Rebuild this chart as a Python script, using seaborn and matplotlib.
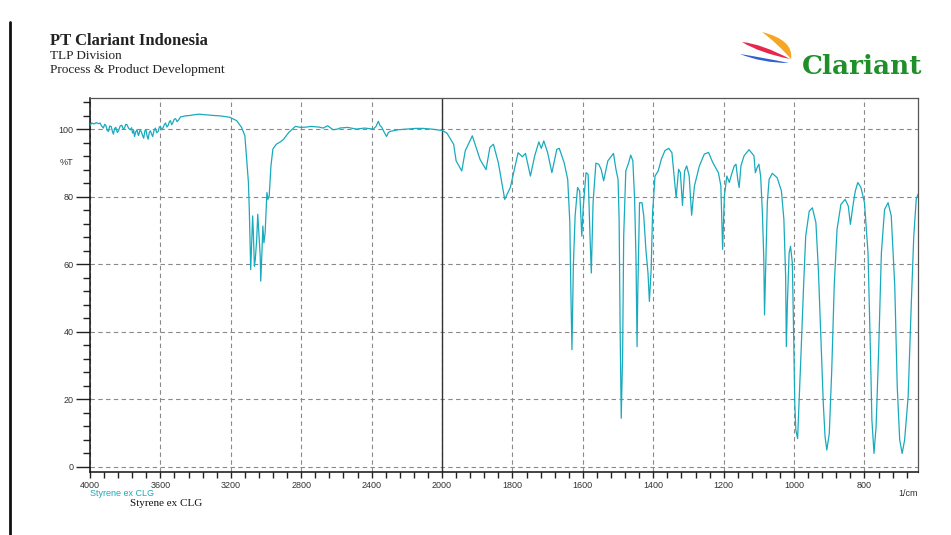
import numpy as np
import pandas as pd
import seaborn as sns
import matplotlib.pyplot as plt
from matplotlib.path import Path
from matplotlib.patches import PathPatch
from matplotlib.lines import Line2D
import matplotlib.transforms as mtransforms

# wavenumber (1/cm) and transmittance (%T)
wavenumber = [
    4000, 3990, 3977, 3965, 3950, 3943, 3935, 3924, 3917, 3910, 3902, 3895, 3888, 3880,
    3873, 3867, 3860, 3853, 3845, 3838, 3828, 3819, 3811, 3804, 3797, 3790, 3780, 3771,
    3764, 3758, 3752, 3747, 3740, 3733, 3728, 3724, 3716, 3709, 3702, 3695, 3688, 3682,
    3676, 3670, 3663, 3657, 3650, 3644, 3636, 3629, 3621, 3613, 3606, 3600, 3593, 3587,
    3579, 3571, 3563, 3556, 3549, 3543, 3536, 3530, 3522, 3514, 3505, 3495, 3486, 3476,
    3460, 3438, 3400, 3381, 3336, 3290, 3260, 3206, 3167, 3139, 3120, 3110, 3100, 3095,
    3091, 3087, 3081, 3076, 3072, 3066, 3061, 3053, 3047, 3041, 3033, 3030, 3024, 3018,
    3012, 3005, 2995, 2989, 2982, 2972, 2961, 2942, 2919, 2900, 2871, 2833, 2804, 2770,
    2746, 2700, 2675, 2650, 2619, 2593, 2581, 2536, 2487, 2440, 2391, 2375, 2362, 2352,
    2343, 2328, 2315, 2305, 2296, 2250, 2203, 2150, 2109, 2060, 2032, 2000,
    1986, 1967, 1960, 1944, 1934, 1914, 1892, 1875, 1864, 1854, 1840, 1822, 1806, 1784,
    1772, 1763, 1749, 1737, 1725, 1718, 1711, 1700, 1688, 1674, 1667, 1653, 1643, 1637,
    1634, 1631, 1627, 1622, 1615, 1609, 1603, 1599, 1591, 1585, 1580, 1576, 1571, 1563,
    1555, 1548, 1541, 1529, 1513, 1506, 1500, 1497, 1494, 1491, 1487, 1484, 1478, 1470,
    1464, 1458, 1453, 1449, 1446, 1444, 1439, 1432, 1427, 1421, 1415, 1411, 1406, 1402,
    1395, 1386, 1377, 1367, 1356, 1347, 1340, 1335, 1328, 1323, 1317, 1311, 1305, 1298,
    1291, 1283, 1269, 1255, 1243, 1231, 1215, 1208, 1203, 1198, 1191, 1184, 1179, 1170,
    1165, 1160, 1156, 1151, 1142, 1128, 1114, 1110, 1105, 1100, 1095, 1090, 1086, 1084,
    1080, 1076, 1071, 1062, 1048, 1036, 1029, 1024, 1022, 1019, 1014, 1010, 1005, 1002,
    998, 995, 990, 986, 981, 973, 967, 957, 948, 938, 931, 924, 917, 912,
    907, 900, 893, 886, 878, 867, 855, 846, 840, 833, 826, 819, 810, 800,
    790, 783, 779, 773, 767, 760, 752, 743, 733, 724, 714, 707, 700, 693,
    686, 676, 667, 660, 653, 648,
]
transmittance = [
    101.0, 101.8, 101.5, 101.9, 101.6, 101.8, 101.0, 100.3, 101.4, 101.1, 99.6, 99.3, 100.9, 100.8,
    99.4, 98.5, 100.2, 100.5, 99.0, 99.5, 101.0, 101.1, 100.0, 100.3, 101.4, 101.3, 100.2, 99.8,
    100.4, 98.8, 99.6, 97.8, 99.2, 99.8, 98.6, 98.1, 99.7, 99.3, 98.2, 97.3, 99.5, 99.8,
    98.0, 97.0, 99.0, 99.5, 98.5, 97.8, 99.6, 100.3, 98.9, 99.3, 100.6, 100.8, 99.8, 100.1,
    101.2, 101.8, 100.6, 101.1, 102.2, 102.5, 101.3, 101.8, 102.9, 103.1, 102.2, 102.8, 103.6, 103.7,
    103.9, 104.0, 104.3, 104.4, 104.2, 104.0, 103.9, 103.5, 102.5, 100.5, 98.0, 91.1, 84.2, 76.2,
    67.3, 58.4, 67.3, 74.3, 69.3, 59.4, 61.4, 67.3, 74.8, 69.3, 62.4, 55.0, 62.4, 71.3,
    66.3, 69.3, 81.2, 79.2, 80.2, 89.1, 94.1, 95.5, 96.2, 97.0, 99.0, 100.8, 100.5, 100.6,
    100.8, 100.6, 100.3, 101.0, 99.8, 100.0, 100.3, 100.5, 100.0, 100.3, 100.0, 100.8, 102.3, 101.0,
    100.6, 99.0, 97.8, 99.0, 99.3, 99.8, 100.0, 100.2, 100.2, 100.0, 99.8, 99.6,
    98.8, 95.5, 90.6, 87.6, 93.6, 98.0, 91.0, 88.0, 94.6, 95.5, 90.0, 79.2, 82.7, 93.0,
    91.8, 92.8, 86.1, 92.0, 96.2, 94.3, 96.5, 93.0, 87.1, 94.0, 94.3, 90.0, 85.1, 72.3,
    51.5, 34.7, 59.4, 74.3, 82.7, 81.7, 68.3, 76.7, 87.1, 86.6, 69.3, 57.4, 78.2, 89.9,
    89.6, 88.1, 84.7, 90.6, 92.8, 88.1, 85.1, 73.3, 39.6, 14.4, 33.7, 68.3, 87.6, 90.0,
    92.3, 90.6, 79.2, 61.4, 35.6, 51.5, 78.2, 78.2, 74.3, 64.4, 57.4, 49.0, 58.4, 75.2,
    86.1, 87.6, 91.1, 93.6, 94.3, 93.0, 85.1, 79.7, 88.1, 87.1, 77.4, 87.6, 89.1, 86.1,
    74.5, 83.2, 89.1, 92.6, 93.1, 90.1, 87.1, 83.2, 64.4, 80.2, 86.1, 84.2, 86.1, 89.1,
    89.6, 85.1, 82.7, 89.1, 92.1, 93.9, 92.1, 87.1, 88.6, 89.6, 86.1, 75.2, 61.4, 45.0,
    61.4, 78.2, 85.1, 86.9, 85.6, 81.7, 73.3, 56.5, 35.6, 48.5, 63.4, 65.3, 60.4, 43.6,
    18.8, 10.9, 8.4, 18.8, 31.7, 53.5, 68.3, 75.7, 76.7, 72.3, 58.4, 38.6, 18.8, 8.9,
    5.0, 9.9, 28.7, 53.5, 70.3, 77.7, 79.2, 77.2, 71.8, 77.2, 81.7, 84.2, 82.7, 78.2,
    63.4, 33.7, 14.0, 4.0, 12.0, 33.7, 63.4, 76.2, 78.2, 74.3, 53.5, 23.8, 8.0, 4.0,
    8.0, 20.8, 48.5, 68.3, 79.2, 80.7,
]
x_major = [4000, 3600, 3200, 2800, 2400, 2000, 1800, 1600, 1400, 1200, 1000, 800]
x_labels = [str(v) for v in x_major]
y_major = [0, 20, 40, 60, 80, 100]
sample = "Styrene ex CLG"

df = pd.DataFrame({"wn": wavenumber, "T": transmittance})

sns.set_style("white")
plt.rcParams['font.family'] = ['Liberation Sans', 'DejaVu Sans']

W, H = 951, 535
fig = plt.figure(figsize=(W / 100, H / 100), dpi=100)
ax = fig.add_axes([90 / W, 1 - 472 / H, (918 - 90) / W, (472 - 98) / H])

def px(x, y):
    return (x / W, 1 - y / H)

# 4000-2000 at half the scale of 2000-400
def fwd(w):
    w = np.asarray(w, dtype=float)
    return np.where(w > 2000, 2000 + (w - 2000) / 2, w)

def inv(u):
    u = np.asarray(u, dtype=float)
    return np.where(u > 2000, 2000 + 2 * (u - 2000), u)

ax.set_xscale('function', functions=(fwd, inv))

teal = '#19aabd'
sns.lineplot(data=df, x="wn", y="T", ax=ax, color=teal, lw=0.9,
             estimator=None, sort=False, zorder=3)

ax.set_xlim(4000, 648)
ax.set_ylim(-1.5, 109.2)
ax.set_xlabel("")
ax.set_ylabel("")

ax.set_xticks(x_major)
ax.set_xticklabels(x_labels)
ax.set_xticks(list(range(3920, 2000, -80)) + list(range(1960, 648, -40)), minor=True)
ax.set_yticks(y_major)
ax.set_yticks([v for v in range(0, 109, 4) if v % 20], minor=True)

ax.grid(True, which='major', color='#8a8a8a', lw=0.8, ls=(0, (4, 3)))
ax.axvline(2000, color='#333333', lw=1.0, zorder=2)

ax.tick_params(axis='y', which='major', direction='out', length=10, width=1,
               color='#222222', labelsize=6.5, labelcolor='#333333', pad=2, left=True)
ax.tick_params(axis='y', which='minor', direction='out', length=5, width=1,
               color='#222222', left=True)
ax.tick_params(axis='x', which='major', direction='out', length=4.5, width=1,
               color='#222222', labelsize=6.5, labelcolor='#333333', pad=2, bottom=True)
ax.tick_params(axis='x', which='minor', direction='out', length=4, width=1,
               color='#222222', bottom=True)

for s in ['left', 'bottom']:
    ax.spines[s].set_color('#111111')
    ax.spines[s].set_linewidth(1.1)
for s in ['top', 'right']:
    ax.spines[s].set_color('#555555')
    ax.spines[s].set_linewidth(0.9)

trans = mtransforms.blended_transform_factory(fig.transFigure, ax.transData)
fig.text(73 / W, 90, "%T", transform=trans, ha='right', va='center',
         fontsize=6.5, color='#333333')
fig.text(*px(918, 493), "1/cm", ha='right', va='center', fontsize=6.5, color='#333333')
fig.text(*px(90, 493), sample, ha='left', va='center', fontsize=6.5, color=teal)
fig.text(*px(130, 503), sample, ha='left', va='center', fontsize=8,
         family=['Liberation Serif'], color='#111111')

# header
fig.text(*px(50, 41), "PT Clariant Indonesia", ha='left', va='center', fontsize=12,
         weight='bold', family=['Liberation Serif'], color='#222222')
fig.text(*px(50, 56), "TLP Division", ha='left', va='center', fontsize=9.5,
         family=['Liberation Serif'], color='#222222')
fig.text(*px(50, 70), "Process & Product Development", ha='left', va='center', fontsize=9.6,
         family=['Liberation Serif'], color='#222222')

# logo
fig.text(*px(802, 67), "Clariant", ha='left', va='center', fontsize=19,
         weight='bold', family=['DejaVu Serif'], color='#1f8f2a')

def swoosh(pts, color):
    verts = [px(*p) for p in pts]
    codes = [Path.MOVETO, Path.CURVE3, Path.CURVE3, Path.CURVE3, Path.CURVE3, Path.CLOSEPOLY]
    verts.append(verts[0])
    fig.add_artist(PathPatch(Path(verts, codes), facecolor=color, edgecolor='none',
                             transform=fig.transFigure))

swoosh([(762, 32), (794, 40), (791, 59), (778, 44), (762, 32)], '#f5a623')
swoosh([(742, 42), (762, 44), (790, 59), (760, 53), (742, 42)], '#e8264a')
swoosh([(740, 54), (765, 58), (789, 63), (762, 63), (740, 54)], '#2f5fd0')

# page border on the left
fig.add_artist(Line2D([10 / W, 10 / W], [1 - 22 / H, 0], color='#111111', lw=2,
                      transform=fig.transFigure))

fig.savefig("out.png", dpi=100, facecolor='white')
